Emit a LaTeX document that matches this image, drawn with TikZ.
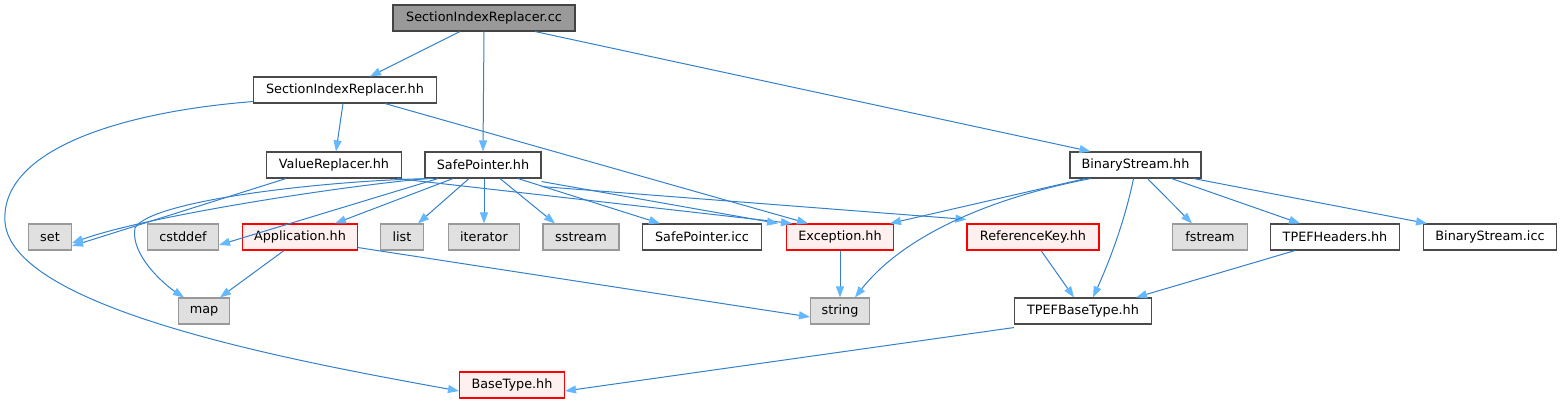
\documentclass[tikz,border=0pt]{standalone}
\usepackage{fontspec}
\setmainfont{DejaVu Sans}
\usetikzlibrary{arrows.meta}
\definecolor{edgeblue}{HTML}{3380CC}
\definecolor{arrowblue}{HTML}{63B8FF}
\definecolor{ccfill}{HTML}{999999}
\definecolor{ccdraw}{HTML}{444444}
\definecolor{sysfill}{HTML}{E0E0E0}
\definecolor{sysdraw}{HTML}{999999}
\definecolor{usrdraw}{HTML}{4A4A4A}
\definecolor{redfill}{HTML}{FFF0F0}
\tikzset{
  base/.style={rectangle, minimum height=26pt, inner sep=0pt, line width=1.1pt,
    font=\fontsize{12.8}{15}\selectfont, text=black},
  ccbox/.style={base, fill=ccfill, draw=ccdraw},
  sysbox/.style={base, fill=sysfill, draw=sysdraw},
  usrbox/.style={base, fill=white, draw=usrdraw},
  redbox/.style={base, fill=redfill, draw=red},
  edge/.style={draw=edgeblue, line width=1pt,
    -{Triangle[length=11pt,width=8pt,fill=arrowblue,color=arrowblue]}},
}
\begin{document}
\begin{tikzpicture}[x=1pt,y=-1pt]
\useasboundingbox (0,0) rectangle (1563,403);
% row 0
\node[ccbox, minimum width=182pt] (cc) at (484,18) {SectionIndexReplacer.cc};
% row 1
\node[usrbox, minimum width=183pt] (sirh) at (345,90) {SectionIndexReplacer.hh};
% row 2
\node[usrbox, minimum width=135pt] (vr) at (334,165) {ValueReplacer.hh};
\node[usrbox, minimum width=116pt] (sp) at (483,165) {SafePointer.hh};
\node[usrbox, minimum width=131pt] (bs) at (1135.5,165) {BinaryStream.hh};
% row 3
\node[sysbox, minimum width=43pt] (set) at (50,237) {set};
\node[sysbox, minimum width=71pt] (cstddef) at (183,237) {cstddef};
\node[redbox, minimum width=115pt] (app) at (300,237) {Application.hh};
\node[sysbox, minimum width=43pt] (list) at (402,237) {list};
\node[sysbox, minimum width=71pt] (iter) at (484,237) {iterator};
\node[sysbox, minimum width=76pt] (sstream) at (581,237) {sstream};
\node[usrbox, minimum width=119pt] (spicc) at (702,237) {SafePointer.icc};
\node[redbox, minimum width=107pt] (exc) at (840,237) {Exception.hh};
\node[redbox, minimum width=132pt] (refkey) at (1033,237) {ReferenceKey.hh};
\node[sysbox, minimum width=75pt] (fstream) at (1210,237) {fstream};
\node[usrbox, minimum width=129pt] (tpefh) at (1335,237) {TPEFHeaders.hh};
\node[usrbox, minimum width=133pt] (bsicc) at (1490,237) {BinaryStream.icc};
% row 4
\node[sysbox, minimum width=51pt] (map) at (204,311) {map};
\node[sysbox, minimum width=59pt] (string) at (840,311) {string};
\node[usrbox, minimum width=137pt] (tpefbt) at (1083,311) {TPEFBaseType.hh};
% row 5
\node[redbox, minimum width=105pt] (basetype) at (512,385) {BaseType.hh};

% edges from cc
\draw[edge] ([xshift=-24pt]cc.south) -- ([xshift=25pt]sirh.north);
\draw[edge] (cc.south) -- (sp.north);
\draw[edge] ([xshift=51pt]cc.south) -- ([xshift=-45pt]bs.north);
% from SectionIndexReplacer.hh
\draw[edge] ([xshift=-2pt]sirh.south) -- ([xshift=2pt]vr.north);
\draw[edge] ([yshift=2pt]sirh.south west) .. controls (120,112) and (0,150) .. (5,222)
   .. controls (12,310) and (300,362) .. ([yshift=-6pt]basetype.west);
\draw[edge] ([xshift=40pt]sirh.south) -- ([xshift=-32pt]exc.north);
% from ValueReplacer.hh
\draw[edge] ([xshift=-48pt]vr.south) -- ([yshift=-9pt]set.east);
\draw[edge] ([xshift=63pt]vr.south) -- ([xshift=-48pt]exc.north);
% from SafePointer.hh
\draw[edge] ([xshift=-55pt]sp.south) .. controls (350,185) and (150,215) .. ([yshift=-6pt]set.east);
\draw[edge] ([xshift=-45pt]sp.south) -- ([yshift=-8pt]cstddef.east);
\draw[edge] ([xshift=-50pt]sp.south) .. controls (330,180) and (150,200) .. (135,228)
   .. controls (130,255) and (165,285) .. ([xshift=-20pt]map.north);
\draw[edge] ([xshift=-30pt]sp.south) -- ([xshift=35pt]app.north);
\draw[edge] ([xshift=-14pt]sp.south) -- ([xshift=16pt]list.north);
\draw[edge] ([xshift=1pt]sp.south) -- (iter.north);
\draw[edge] ([xshift=17pt]sp.south) -- ([xshift=-26pt]sstream.north);
\draw[edge] ([xshift=35pt]sp.south) -- ([xshift=-42pt]spicc.north);
\draw[edge] ([yshift=-3pt]sp.south east) -- ([xshift=-62pt]exc.north);
\draw[edge] ([yshift=-8pt]sp.south east) -- ([yshift=4pt]refkey.north west);
% from BinaryStream.hh
\draw[edge] ([xshift=-50pt]bs.south) -- ([xshift=50pt]exc.north);
\draw[edge] ([xshift=-45pt]bs.south) .. controls (980,200) and (900,240) .. ([xshift=15pt]string.north);
\draw[edge] ([xshift=-2pt]bs.south) .. controls (1125,220) and (1110,260) .. ([xshift=10pt]tpefbt.north);
\draw[edge] ([xshift=12pt]bs.south) -- ([xshift=-18pt]fstream.north);
\draw[edge] ([xshift=36pt]bs.south) -- ([xshift=-35pt]tpefh.north);
\draw[edge] ([xshift=58pt]bs.south) -- ([xshift=-63pt]bsicc.north);
% lower edges
\draw[edge] (exc.south) -- (string.north);
\draw[edge] ([xshift=-16pt]app.south) -- ([xshift=16pt]map.north);
\draw[edge] ([yshift=3pt]app.south east) -- ([yshift=-6pt]string.west);
\draw[edge] ([xshift=8pt]refkey.south) -- ([xshift=-9pt]tpefbt.north);
\draw[edge] ([xshift=-40pt]tpefh.south) -- ([xshift=53pt]tpefbt.north);
\draw[edge] ([yshift=-3pt]tpefbt.south west) -- ([yshift=-6pt]basetype.east);
\end{tikzpicture}
\end{document}
